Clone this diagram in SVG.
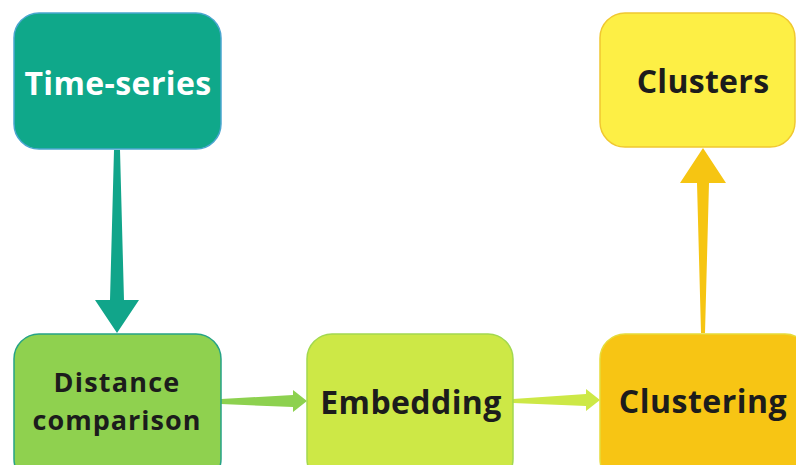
<svg xmlns="http://www.w3.org/2000/svg" width="796" height="465" viewBox="0 0 796 465">
<style>
.t{font-family:"Open Sans","Noto Sans","Liberation Sans",sans-serif;font-weight:bold;text-anchor:middle;fill:#1c1c1c}
.w{fill:#ffffff}
.box{stroke-width:1.5}
</style>
<rect width="796" height="465" fill="#ffffff"/>
<g id="connectors">
<path d="M114,150 L120,150 L124,300 L139,300 L117,333 L95,300 L110,300 Z" fill="#11a58a"/>
<path d="M701,333 L705,333 L709,183 L726,183 L703,148 L680,183 L697,183 Z" fill="#f6c512"/>
<path d="M221,399 L221,404 L293,407 L293,412 L307,401 L293,390 L293,395 Z" fill="#8dd14f"/>
<path d="M513,399 L513,403 L586,406 L586,411 L600,400 L586,389 L586,394 Z" fill="#cde846"/>
</g>
<g id="time-series">
<rect class="box" x="14" y="13" width="207" height="136" rx="25" fill="#0fa88a" stroke="#4aa6d0"/>
<text class="t w" x="118" y="95" font-size="32" letter-spacing="0.4">Time-series</text>
</g>
<g id="clusters">
<rect class="box" x="600" y="13" width="195" height="134" rx="25" fill="#fdef45" stroke="#f0c830"/>
<text class="t" x="703" y="93" font-size="32" letter-spacing="0.3">Clusters</text>
</g>
<g id="distance-comparison">
<rect class="box" x="14" y="334" width="207" height="150" rx="25" fill="#8fd14f" stroke="#26a386"/>
<text class="t" x="117" y="392" font-size="27" letter-spacing="1.2">Distance</text>
<text class="t" x="117" y="430" font-size="27" letter-spacing="1">comparison</text>
</g>
<g id="embedding">
<rect class="box" x="307" y="334" width="206" height="150" rx="25" fill="#cde846" stroke="#a2d84f"/>
<text class="t" x="411" y="414" font-size="32" letter-spacing="0.4">Embedding</text>
</g>
<g id="clustering">
<rect class="box" x="600" y="334" width="210" height="150" rx="25" fill="#f7c514" stroke="#e6dc3a"/>
<text class="t" x="703" y="413" font-size="32" letter-spacing="0.5">Clustering</text>
</g>
</svg>
